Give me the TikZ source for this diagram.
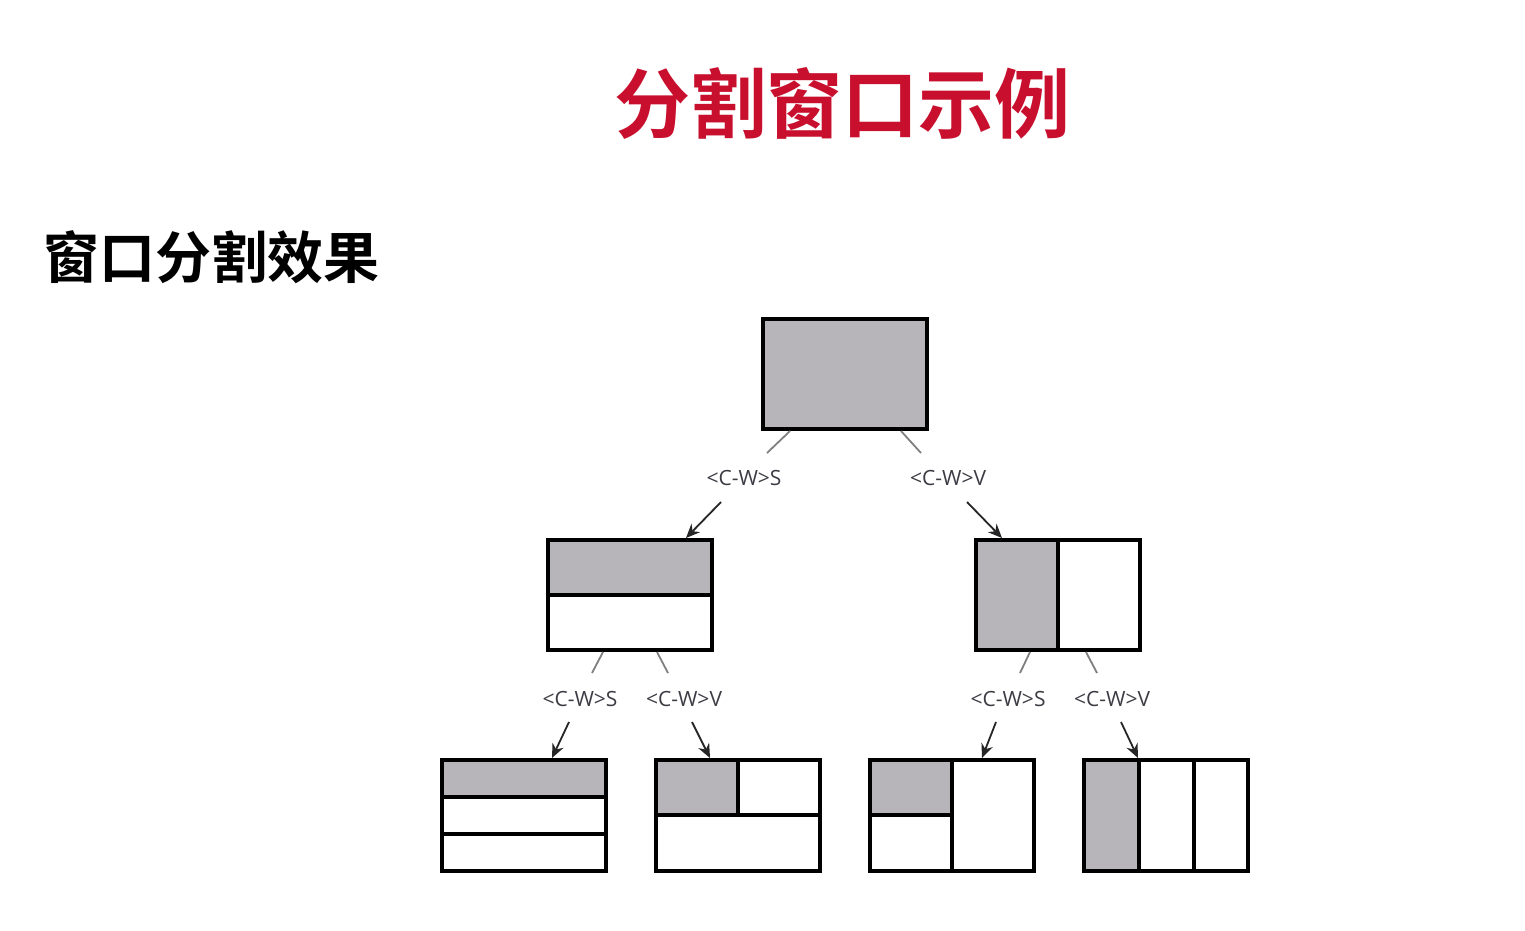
\documentclass[tikz,border=0pt]{standalone}
\usepackage{fontspec}
\newfontfamily\cjk{Noto Sans CJK SC}[BoldFont={Noto Sans CJK SC Bold}]
\newfontfamily\lbl{Open Sans}
\usetikzlibrary{arrows.meta}
\definecolor{titlered}{HTML}{C8102E}
\definecolor{winfill}{HTML}{B7B5B9}
\definecolor{lblcol}{HTML}{3C3C44}
\tikzset{
  win/.style={draw=black, line width=3.4pt, minimum width=164pt, minimum height=110pt, inner sep=0pt, fill=white},
  part/.style={draw=black, line width=3.2pt},
  shade/.style={fill=winfill},
  keylbl/.style={font=\lbl\fontsize{21}{24}\selectfont, text=lblcol, inner sep=2pt},
  lead/.style={draw=gray, line width=1.8pt},
  arr/.style={draw=black!85, line width=1.8pt, -{Stealth[length=14pt,width=12pt]}}
}
\begin{document}
\begin{tikzpicture}[x=1pt,y=-1pt]
\path[use as bounding box, fill=white] (0,0) rectangle (1525,931);
\node[font=\cjk\bfseries\fontsize{76}{80}\selectfont, text=titlered] (title) at (842,103) {分割窗口示例};
\node[font=\cjk\bfseries\fontsize{56}{60}\selectfont, text=black, anchor=west, inner sep=0pt] (sub) at (43,257) {窗口分割效果};

% windows
\node[win, fill=winfill] (top) at (845,374) {};
\node[win] (ml) at (630,595) {};
\node[win] (mr) at (1058,595) {};
\node[win] (b1) at (524,815.5) {};
\node[win] (b2) at (738,815.5) {};
\node[win] (b3) at (952,815.5) {};
\node[win] (b4) at (1166,815.5) {};

% mid-left: top half shaded
\fill[shade] (548,540) rectangle (712,595);
\draw[part] (548,595) -- (712,595);
\draw[win, fill=none] (548,540) rectangle (712,650);
% mid-right: left half shaded
\fill[shade] (976,540) rectangle (1058,650);
\draw[part] (1058,540) -- (1058,650);
\draw[win, fill=none] (976,540) rectangle (1140,650);
% b1
\fill[shade] (442,760) rectangle (606,797);
\draw[part] (442,797) -- (606,797);
\draw[part] (442,834) -- (606,834);
\draw[win, fill=none] (442,760) rectangle (606,871);
% b2
\fill[shade] (656,760) rectangle (738,815);
\draw[part] (656,815) -- (820,815);
\draw[part] (738,760) -- (738,815);
\draw[win, fill=none] (656,760) rectangle (820,871);
% b3
\fill[shade] (870,760) rectangle (952,815);
\draw[part] (952,760) -- (952,871);
\draw[part] (870,815) -- (952,815);
\draw[win, fill=none] (870,760) rectangle (1034,871);
% b4
\fill[shade] (1084,760) rectangle (1139,871);
\draw[part] (1139,760) -- (1139,871);
\draw[part] (1194,760) -- (1194,871);
\draw[win, fill=none] (1084,760) rectangle (1248,871);

% labels
\node[keylbl] (l1) at (744,478) {<C-W>S};
\node[keylbl] (l2) at (948,478) {<C-W>V};
\node[keylbl] (l3) at (580,699) {<C-W>S};
\node[keylbl] (l4) at (684,699) {<C-W>V};
\node[keylbl] (l5) at (1008,699) {<C-W>S};
\node[keylbl] (l6) at (1112,699) {<C-W>V};

% lead coordinates
\coordinate (t1) at (790,431); \coordinate (u1) at (767,453);
\coordinate (t2) at (901,431); \coordinate (u2) at (921,453);
\coordinate (t3) at (603,652); \coordinate (u3) at (592,673);
\coordinate (t4) at (657,652); \coordinate (u4) at (668,673);
\coordinate (t5) at (1030,652); \coordinate (u5) at (1020,673);
\coordinate (t6) at (1086,652); \coordinate (u6) at (1097,673);
\draw[lead] (t1) -- (u1);
\draw[lead] (t2) -- (u2);
\draw[lead] (t3) -- (u3);
\draw[lead] (t4) -- (u4);
\draw[lead] (t5) -- (u5);
\draw[lead] (t6) -- (u6);

% arrows
\coordinate (s1) at (721,502); \coordinate (e1) at (686,538);
\coordinate (s2) at (967,502); \coordinate (e2) at (1002,538);
\coordinate (s3) at (569,722); \coordinate (e3) at (552,758);
\coordinate (s4) at (692,722); \coordinate (e4) at (710,758);
\coordinate (s5) at (996,722); \coordinate (e5) at (982,758);
\coordinate (s6) at (1121,722); \coordinate (e6) at (1138,758);
\draw[arr] (s1) -- (e1);
\draw[arr] (s2) -- (e2);
\draw[arr] (s3) -- (e3);
\draw[arr] (s4) -- (e4);
\draw[arr] (s5) -- (e5);
\draw[arr] (s6) -- (e6);
\end{tikzpicture}
\end{document}
